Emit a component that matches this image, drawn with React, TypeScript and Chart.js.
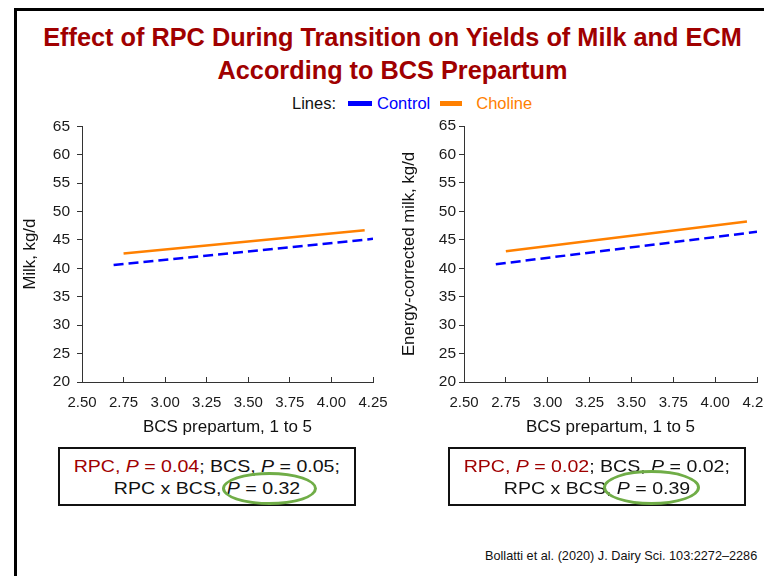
import React, { useEffect, useRef } from 'react';
import { Chart, registerables } from 'chart.js';

Chart.register(...registerables);

const FONT = '"Liberation Sans", Arial, Helvetica, sans-serif';

// ---- data ----
const xTickValues = [2.5, 2.75, 3.0, 3.25, 3.5, 3.75, 4.0, 4.25];
const yTickValues = [20, 25, 30, 35, 40, 45, 50, 55, 60, 65];
const seriesNames = ['Control', 'Choline'];

// Milk, kg/d
const milkControlX = [2.69, 4.25];
const milkControlY = [40.6, 45.2];
const milkCholineX = [2.75, 4.2];
const milkCholineY = [42.6, 46.7];

// Energy-corrected milk, kg/d
const ecmControlX = [2.69, 4.25];
const ecmControlY = [40.7, 46.4];
const ecmCholineX = [2.75, 4.19];
const ecmCholineY = [43.0, 48.2];

const titleLines = [
  'Effect of RPC During Transition on Yields of Milk and ECM',
  'According to BCS Prepartum',
];
const statsLeft = { rpc: '0.04', bcs: '0.05', inter: '0.32' };
const statsRight = { rpc: '0.02', bcs: '0.02', inter: '0.39' };
const citation = 'Bollatti et al. (2020) J. Dairy Sci. 103:2272–2286';

const BLUE = '#0000ff';
const ORANGE = '#ff8000';
const DARKRED = '#a00000';
const AXIS = '#333333';

type PanelProps = {
  left: number;
  width: number;
  yTitle: string;
  controlX: number[];
  controlY: number[];
  cholineX: number[];
  cholineY: number[];
  yTitlePad: number;
  yTickPad: number;
  rightPad: number;
};

function Panel(p: PanelProps) {
  const ref = useRef<HTMLCanvasElement | null>(null);
  useEffect(() => {
    if (!ref.current) return;
    const chart = new Chart(ref.current, {
      type: 'line',
      data: {
        datasets: [
          {
            label: seriesNames[0],
            data: p.controlX.map((x, i) => ({ x, y: p.controlY[i] })),
            borderColor: BLUE,
            backgroundColor: BLUE,
            borderWidth: 2.5,
            borderDash: [10, 5],
            pointRadius: 0,
            fill: false,
          },
          {
            label: seriesNames[1],
            data: p.cholineX.map((x, i) => ({ x, y: p.cholineY[i] })),
            borderColor: ORANGE,
            backgroundColor: ORANGE,
            borderWidth: 2.5,
            pointRadius: 0,
            fill: false,
          },
        ],
      },
      options: {
        responsive: false,
        maintainAspectRatio: false,
        animation: false,
        layout: { padding: { top: 16, right: p.rightPad, bottom: 2, left: 0 } },
        plugins: { legend: { display: false }, tooltip: { enabled: false } },
        scales: {
          x: {
            type: 'linear',
            min: 2.5,
            max: 4.25,
            afterBuildTicks: (s: any) => {
              s.ticks = xTickValues.map((v) => ({ value: v }));
            },
            ticks: {
              callback: (v: any) => Number(v).toFixed(2),
              font: { family: FONT, size: 15 },
              color: '#1a1a1a',
              padding: 17,
              maxRotation: 0,
              autoSkip: false,
            },
            grid: { drawOnChartArea: false, tickLength: -5, color: AXIS },
            border: { color: AXIS, width: 1 },
            title: {
              display: true,
              text: 'BCS prepartum, 1 to 5',
              font: { family: FONT, size: 17 },
              color: '#111',
              padding: { top: 0, bottom: 0 },
            },
            afterFit: (s: any) => {
              s.height = 56;
              s.paddingLeft = 0;
              s.paddingRight = 0;
            },
          },
          y: {
            type: 'linear',
            min: 20,
            max: 65,
            afterBuildTicks: (s: any) => {
              s.ticks = yTickValues.map((v) => ({ value: v }));
            },
            ticks: {
              font: { family: FONT, size: 15.5 },
              color: '#1a1a1a',
              padding: p.yTickPad,
            },
            grid: { drawOnChartArea: false, tickLength: 5, color: AXIS },
            border: { color: AXIS, width: 1 },
            title: {
              display: true,
              text: p.yTitle,
              font: { family: FONT, size: 16.8 },
              color: '#111',
              padding: { top: p.yTitlePad, bottom: 0 },
            },
            afterFit: (s: any) => {
              s.width = 82;
            },
          },
        },
      },
    } as any);
    return () => chart.destroy();
  }, []);
  return (
    <canvas
      ref={ref}
      width={p.width}
      height={330}
      style={{ position: 'absolute', left: p.left, top: 110, width: p.width, height: 330 }}
    />
  );
}

function StatsBox(props: { left: number; s: { rpc: string; bcs: string; inter: string } }) {
  const { left, s } = props;
  return (
    <div
      style={{
        position: 'absolute',
        left,
        top: 447,
        width: 298,
        height: 59,
        boxSizing: 'border-box',
        border: '2px solid #111',
        paddingTop: 7,
        textAlign: 'center',
        fontSize: 17,
        lineHeight: '22px',
        color: '#111',
        whiteSpace: 'nowrap',
      }}
    >
      <div style={{ display: 'inline-block', transform: 'scaleX(1.15)' }}>
        <span style={{ color: DARKRED }}>
          RPC, <i>P</i> = {s.rpc}
        </span>
        ; BCS, <i>P</i> = {s.bcs};
      </div>
      <br />
      <div style={{ display: 'inline-block', transform: 'scaleX(1.15)' }}>
        RPC x BCS, <i>P</i> = {s.inter}
      </div>
    </div>
  );
}

function Ellipse(props: { left: number; top: number; w: number; h: number }) {
  return (
    <div
      style={{
        position: 'absolute',
        left: props.left,
        top: props.top,
        width: props.w,
        height: props.h,
        boxSizing: 'border-box',
        border: '3px solid #70ad47',
        borderRadius: '50%',
      }}
    />
  );
}

export default function App() {
  return (
    <div
      style={{
        position: 'fixed',
        left: 0,
        top: 0,
        width: 764,
        height: 576,
        overflow: 'hidden',
        background: '#fff',
        fontFamily: FONT,
      }}
    >
      <div
        style={{
          position: 'absolute',
          left: 14,
          top: 8,
          width: 800,
          height: 620,
          border: '3px solid #000',
        }}
      />
      <div
        style={{
          position: 'absolute',
          left: 0,
          top: 21,
          width: 785,
          textAlign: 'center',
          fontSize: 25.3,
          fontWeight: 'bold',
          lineHeight: '33px',
          color: DARKRED,
          whiteSpace: 'nowrap',
        }}
      >
        {titleLines[0]}
        <br />
        {titleLines[1]}
      </div>
      <div
        style={{
          position: 'absolute',
          left: 292,
          top: 93,
          height: 20,
          fontSize: 16.5,
          lineHeight: '20px',
          whiteSpace: 'nowrap',
          display: 'flex',
          alignItems: 'center',
        }}
      >
        <span style={{ color: '#111' }}>Lines:</span>
        <span style={{ display: 'inline-block', width: 24, height: 5, background: BLUE, marginLeft: 12, marginRight: 5 }} />
        <span style={{ color: BLUE }}>{seriesNames[0]}</span>
        <span style={{ display: 'inline-block', width: 22, height: 5, background: ORANGE, marginLeft: 10, marginRight: 14 }} />
        <span style={{ color: ORANGE }}>{seriesNames[1]}</span>
      </div>

      <Panel
        left={0}
        width={400}
        yTitle="Milk, kg/d"
        controlX={milkControlX}
        controlY={milkControlY}
        cholineX={milkCholineX}
        cholineY={milkCholineY}
        yTitlePad={20}
        yTickPad={7}
        rightPad={27}
      />
      <Panel
        left={382}
        width={420}
        yTitle="Energy-corrected milk, kg/d"
        controlX={ecmControlX}
        controlY={ecmControlY}
        cholineX={ecmCholineX}
        cholineY={ecmCholineY}
        yTitlePad={17}
        yTickPad={3}
        rightPad={45}
      />

      <StatsBox left={58} s={statsLeft} />
      <StatsBox left={448} s={statsRight} />
      <Ellipse left={222} top={472} w={95} h={33} />
      <Ellipse left={603} top={470} w={97} h={35} />

      <div
        style={{
          position: 'absolute',
          left: 485,
          top: 548,
          fontSize: 12.7,
          lineHeight: '17px',
          color: '#111',
          whiteSpace: 'nowrap',
        }}
      >
        {citation}
      </div>
    </div>
  );
}
